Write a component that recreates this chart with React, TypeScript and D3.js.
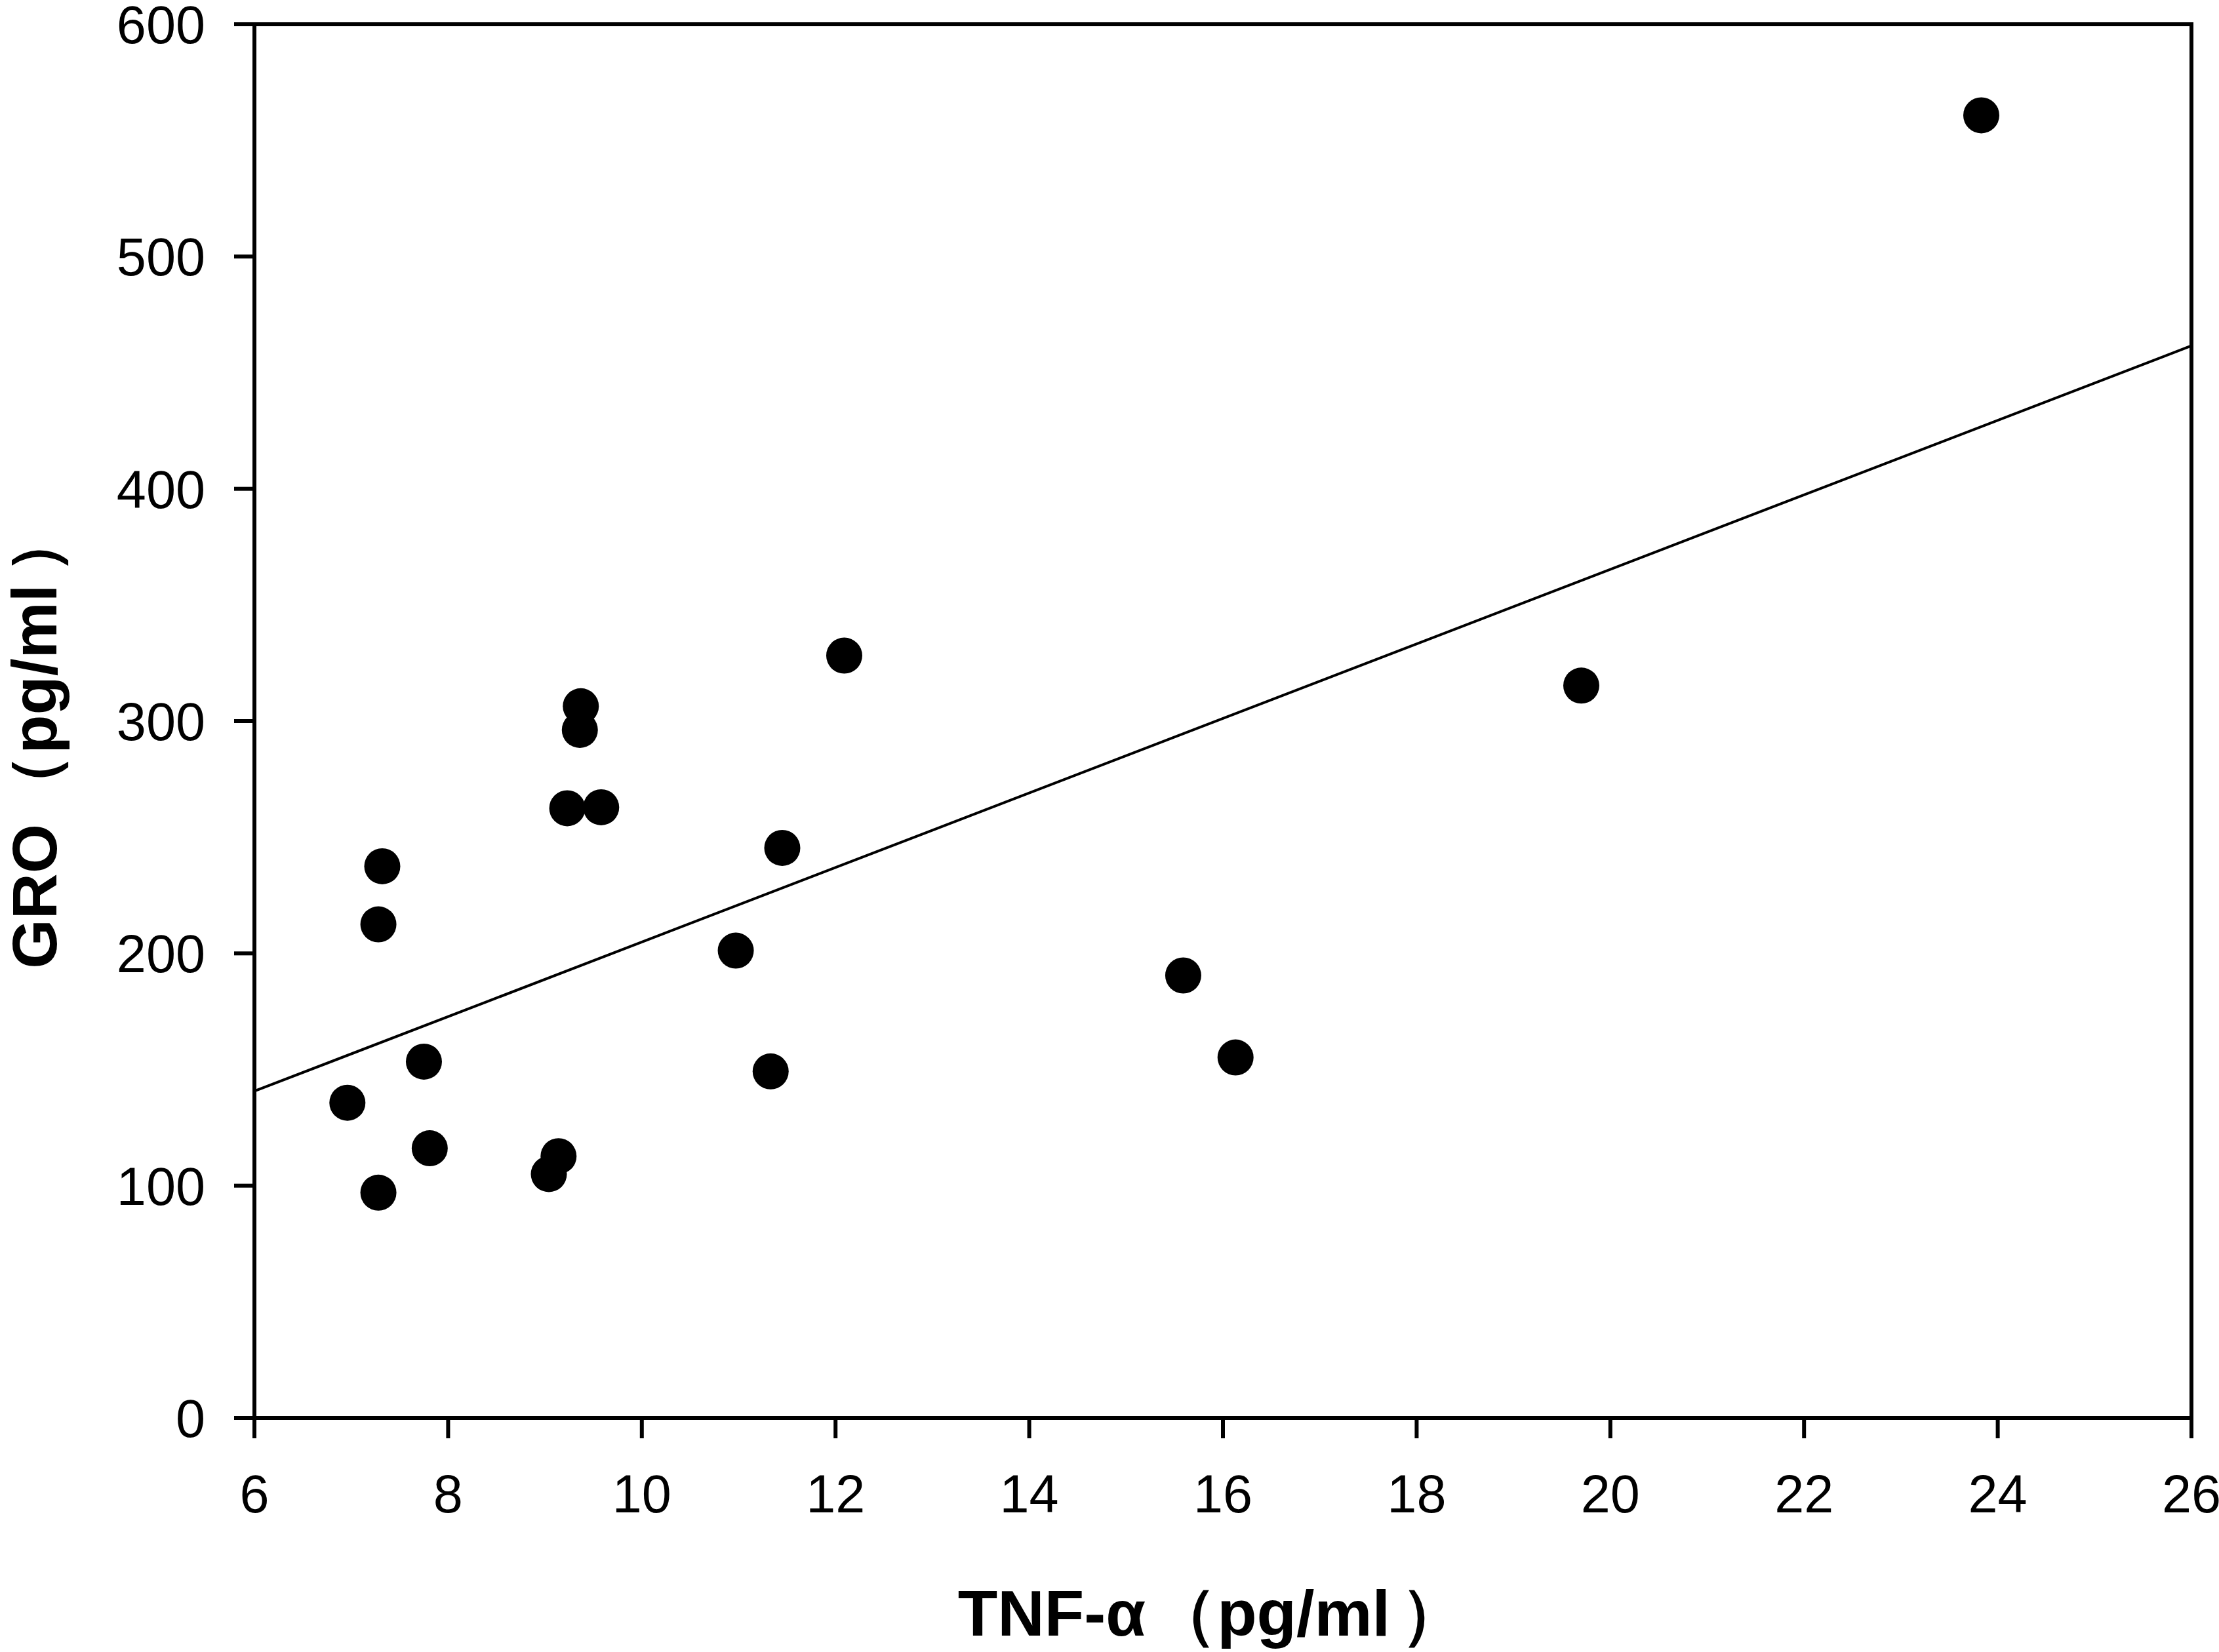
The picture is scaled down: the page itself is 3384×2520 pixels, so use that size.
import React from "react";
import * as d3 from "d3";

// TNF-α (pg/ml) values
const tnfValues: number[] = [6.96, 7.28, 7.28, 7.32, 7.75, 7.81, 9.04, 9.14, 9.23, 9.58, 9.36, 9.37, 10.97, 11.33, 11.45, 12.09, 15.59, 16.13, 19.70, 23.83];
// GRO (pg/ml) values
const groValues: number[] = [135.7, 97.0, 212.5, 237.5, 153.4, 116.1, 105.0, 112.7, 262.5, 262.9, 296.2, 306.4, 201.2, 149.2, 245.4, 328.2, 190.5, 155.2, 315.3, 560.8];
// regression line end points
const fitX: number[] = [6, 26];
const fitY: number[] = [140.7, 461.6];
// ticks
const xTicks: number[] = [6, 8, 10, 12, 14, 16, 18, 20, 22, 24, 26];
const yTicks: number[] = [0, 100, 200, 300, 400, 500, 600];

// axis titles: [name, unit]
const xTitleParts: string[] = ["TNF-α", "pg/ml"];
const yTitleParts: string[] = ["GRO", "pg/ml"];

const W = 3384;
const H = 2520;
const FONT = "'Liberation Sans', Arial, sans-serif";

function Title({ parts }: { parts: string[] }) {
  return (
    <>
      {parts[0]}
      <tspan dx={10}>（</tspan>
      {parts[1]}
      <tspan dx={16}>）</tspan>
    </>
  );
}

export default function App() {
  const x = d3.scaleLinear().domain([6, 26]).range([388, 3342]);
  const y = d3.scaleLinear().domain([0, 600]).range([2163, 37]);
  const [x0, x1] = x.range();
  const [y0, y1] = y.range();
  const tickLen = 31;
  const sw = 6;

  const fitLine = d3
    .line<number>()
    .x((_, i) => x(fitX[i]))
    .y((_, i) => y(fitY[i]));

  const pts = tnfValues.map((v, i) => ({ tx: v, gy: groValues[i] }));

  return (
    <svg
      width={W}
      height={H}
      viewBox={`0 0 ${W} ${H}`}
      style={{ position: "absolute", left: 0, top: 0, background: "#fff" }}
    >
      <rect x={0} y={0} width={W} height={H} fill="#fff" />
      {/* frame */}
      <rect
        x={x0}
        y={y1}
        width={x1 - x0}
        height={y0 - y1}
        fill="none"
        stroke="#000"
        strokeWidth={sw}
      />
      {/* x ticks */}
      {xTicks.map((t) => (
        <g key={"xt" + t}>
          <line x1={x(t)} x2={x(t)} y1={y0} y2={y0 + tickLen} stroke="#000" strokeWidth={sw} />
          <text
            x={x(t)}
            y={y0 + 144}
            textAnchor="middle"
            fontFamily={FONT}
            fontSize={81}
            fill="#000"
          >
            {t}
          </text>
        </g>
      ))}
      {/* y ticks */}
      {yTicks.map((t) => (
        <g key={"yt" + t}>
          <line x1={x0 - tickLen} x2={x0} y1={y(t)} y2={y(t)} stroke="#000" strokeWidth={sw} />
          <text
            x={313}
            y={y(t) + 29}
            textAnchor="end"
            fontFamily={FONT}
            fontSize={81}
            fill="#000"
          >
            {t}
          </text>
        </g>
      ))}
      {/* regression line */}
      <path d={fitLine(fitX) || ""} fill="none" stroke="#000" strokeWidth={4} />
      {/* points */}
      {pts.map((p, i) => (
        <circle key={"p" + i} cx={x(p.tx)} cy={y(p.gy)} r={27.5} fill="#000" />
      ))}
      {/* axis titles */}
      <text
        x={1848}
        y={2495}
        textAnchor="middle"
        fontFamily={FONT}
        fontWeight="bold"
        fontSize={99}
        fill="#000"
      >
        <Title parts={xTitleParts} />
      </text>
      <text
        transform={`translate(86, 1128) rotate(-90)`}
        textAnchor="middle"
        fontFamily={FONT}
        fontWeight="bold"
        fontSize={97}
        fill="#000"
      >
        <Title parts={yTitleParts} />
      </text>
    </svg>
  );
}
